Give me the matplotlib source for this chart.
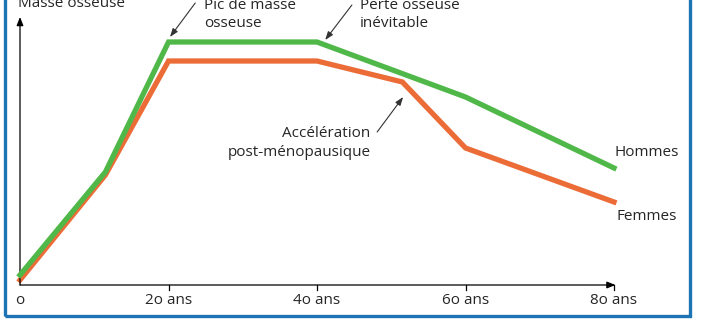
import matplotlib.pyplot as plt
from matplotlib.patches import Rectangle

# data (arbitrary bone mass units)
ages_h = [0, 11.5, 20, 40, 60, 80]
hommes = [10, 113, 243, 243, 188, 117]
ages_f = [0, 11.5, 20, 40, 51.5, 60, 80]
femmes = [5, 110, 224, 224, 203, 137, 83]
tick_ages = [0, 20, 40, 60, 80]
tick_labels = ["o", "2o ans", "4o ans", "6o ans", "8o ans"]

green = "#4fb848"
orange = "#ec6c37"
txt = "#262626"

plt.rcParams['font.family'] = ['Open Sans', 'DejaVu Sans']

fig = plt.figure(figsize=(7.02, 3.36), dpi=100)
ax = fig.add_axes([0, 0, 1, 1])
# data coords chosen so that 1 year = 7.425 px, 1 unit = 1 px
ax.set_xlim(-20 / 7.425, 682 / 7.425)
ax.set_ylim(-51, 285)
ax.axis("off")

# frame
fig.patches.append(Rectangle((5 / 702, 20 / 336), 685 / 702, 1.2, transform=fig.transFigure,
                             fill=False, edgecolor="#1c74b4", linewidth=2.4, zorder=0))

# axes arrows
ax.annotate("", xy=(80.2, 0), xytext=(0, 0),
            arrowprops=dict(arrowstyle="-|>,head_length=0.5,head_width=0.2", color="black", lw=0.9,
                            shrinkA=0, shrinkB=0))
ax.annotate("", xy=(0, 268), xytext=(0, 0),
            arrowprops=dict(arrowstyle="-|>,head_length=0.5,head_width=0.2", color="black", lw=0.9,
                            shrinkA=0, shrinkB=0))
for a, lab in zip(tick_ages, tick_labels):
    if a > 0:
        ax.plot([a, a], [0, -5], color="black", lw=0.9)
    ax.text(a, -15, lab, ha="center", va="center", fontsize=11, color=txt)

ax.plot(ages_h, hommes, color=green, lw=3.8, solid_joinstyle="miter", zorder=3)
ax.plot(ages_f, femmes, color=orange, lw=3.8, solid_joinstyle="miter", zorder=2)

ax.text(-0.3, 278, "Masse osseuse", ha="left", va="baseline", fontsize=11, color=txt)
ax.text(24.8, 258, "Pic de masse\nosseuse", ha="left", va="baseline", fontsize=11, color=txt,
        linespacing=1.3)
ax.text(45.8, 258, "Perte osseuse\ninévitable", ha="left", va="baseline", fontsize=11, color=txt,
        linespacing=1.3)
ax.text(47.2, 142, "Accélération\npost-ménopausique", ha="right", va="center", fontsize=11,
        color=txt, linespacing=1.3)
ax.text(80, 132, "Hommes", ha="left", va="center", fontsize=11, color=txt)
ax.text(80.4, 68, "Femmes", ha="left", va="center", fontsize=11, color=txt)

arrow = dict(arrowstyle="-|>,head_length=0.5,head_width=0.18", color="#333333", lw=0.8,
             shrinkA=0, shrinkB=0)
ax.annotate("", xy=(20.2, 248), xytext=(23.6, 282), arrowprops=arrow)
ax.annotate("", xy=(41.1, 245), xytext=(44.7, 280), arrowprops=arrow)
ax.annotate("", xy=(51.6, 188), xytext=(48.1, 153), arrowprops=arrow)

fig.savefig("out.png", dpi=100)
